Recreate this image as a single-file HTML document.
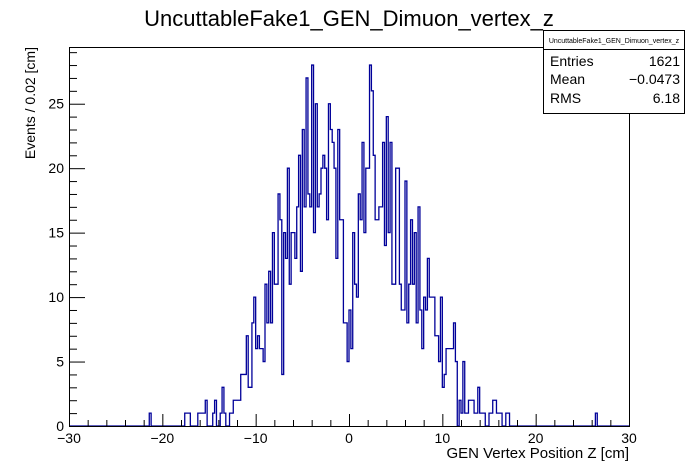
<!DOCTYPE html>
<html><head><meta charset="utf-8"><style>
body{margin:0;background:#fff;}
svg{display:block;font-family:"Liberation Sans",sans-serif;}
</style></head><body>
<svg id="chart" width="698" height="474" viewBox="0 0 698 474" xmlns="http://www.w3.org/2000/svg">
<rect x="0" y="0" width="698" height="474" fill="#fff"/>
<text x="349" y="26" font-size="22" text-anchor="middle">UncuttableFake1_GEN_Dimuon_vertex_z</text>
<g id="plot"></g>
<text x="629" y="458" font-size="15" text-anchor="end">GEN Vertex Position Z [cm]</text>
<text transform="translate(35,47) rotate(-90)" font-size="14" text-anchor="end">Events / 0.02 [cm]</text>
<g>
<rect x="543.5" y="30.5" width="141" height="83" fill="#fff" stroke="#000"/>
<text x="614" y="43" font-size="7" text-anchor="middle">UncuttableFake1_GEN_Dimuon_vertex_z</text>
<line x1="543.5" y1="49.5" x2="684.5" y2="49.5" stroke="#000"/>
<text x="550" y="66" font-size="14">Entries</text><text x="680" y="66" font-size="14" text-anchor="end">1621</text>
<text x="550" y="84" font-size="14">Mean</text><text x="680" y="84" font-size="14" text-anchor="end">−0.0473</text>
<text x="550" y="103" font-size="14">RMS</text><text x="680" y="103" font-size="14" text-anchor="end">6.18</text>
</g>
</svg>
<script>
const xMin = -30, xMax = 30, binWidth = 0.2;
const yMin = 0, yMax = 29.4;
const xTicks = [-30, -20, -10, 0, 10, 20, 30];
const xTickLabels = ["\u221230", "\u221220", "\u221210", "0", "10", "20", "30"];
const yTicks = [0, 5, 10, 15, 20, 25];
const yTickLabels = ["0", "5", "10", "15", "20", "25"];
const coreStart = -18;
const coreCounts = [0,0,1,1,1,0,0,0,0,1,1,1,1,2,0,0,0,1,2,0,0,1,3,1,0,0,1,1,2,2,2,2,4,4,4,7,3,3,8,10,6,7,6,6,5,11,8,12,8,15,11,11,18,16,4,15,13,20,11,15,15,13,17,21,12,23,17,27,18,17,28,15,25,17,18,20,21,20,16,25,23,22,20,13,23,16,16,8,8,5,9,6,15,11,10,18,16,22,15,20,20,28,26,21,16,16,17,17,22,14,24,15,22,11,11,20,20,11,9,9,19,8,11,16,11,15,8,17,9,6,10,9,13,10,10,10,7,7,5,10,3,4,6,6,6,6,8,5,0,2,1,5,1,1,2,2,2,1,1,3,1,1,1,0,0,1,1,2,2,1,1,1,0,0,1,1,0];
const outlierPositions = [-21.4, 26.4];
const outlierCounts = [1, 1];

const L = 69, R = 629, T = 47, B = 426;
const xs = v => L + (v - xMin) / (xMax - xMin) * (R - L);
const ys = v => B - (v - yMin) / (yMax - yMin) * (B - T);
const NS = "http://www.w3.org/2000/svg";
const plot = document.getElementById('plot');

const nb = Math.round((xMax - xMin) / binWidth);
const counts = new Array(nb).fill(0);
coreCounts.forEach((c, i) => { counts[Math.round((coreStart - xMin) / binWidth) + i] = c; });
outlierPositions.forEach((p, i) => { counts[Math.floor((p - xMin) / binWidth)] = outlierCounts[i]; });

let d = "M" + xs(xMin) + "," + ys(0);
for (let i = 0; i < nb; i++) {
  const x0 = xs(xMin + i * binWidth), x1 = xs(xMin + (i + 1) * binWidth), y = ys(counts[i]);
  d += " L" + x0.toFixed(2) + "," + y.toFixed(2) + " L" + x1.toFixed(2) + "," + y.toFixed(2);
}
d += " L" + xs(xMax) + "," + ys(0);
const path = document.createElementNS(NS, 'path');
path.setAttribute('d', d);
path.setAttribute('fill', 'none');
path.setAttribute('stroke', '#000099');
path.setAttribute('stroke-width', '1.3');


plot.appendChild(path);

const frame = document.createElementNS(NS, 'rect');
frame.setAttribute('x', L + 0.5); frame.setAttribute('y', T + 0.5);
frame.setAttribute('width', R - L); frame.setAttribute('height', B - T);
frame.setAttribute('fill', 'none'); frame.setAttribute('stroke', '#000');


plot.appendChild(frame);

function line(x1, y1, x2, y2, name) {
  const l = document.createElementNS(NS, 'line');
  l.setAttribute('x1', x1); l.setAttribute('y1', y1); l.setAttribute('x2', x2); l.setAttribute('y2', y2);
  l.setAttribute('stroke', '#000');
  
  
  plot.appendChild(l);
}
function text(x, y, s, anchor, name) {
  const t = document.createElementNS(NS, 'text');
  t.setAttribute('x', x); t.setAttribute('y', y); t.setAttribute('font-size', '14');
  t.setAttribute('text-anchor', anchor); t.textContent = s;
  
  
  plot.appendChild(t);
}
for (let v = xMin; v <= xMax; v += 2) {
  const major = v % 10 === 0;
  line(xs(v) + 0.5, B, xs(v) + 0.5, B - (major ? 12 : 6), 'x-tick');
}
xTicks.forEach((v, i) => text(xs(v), B + 17, xTickLabels[i], 'middle', 'x-tick-label'));
for (let v = 0; v <= 29; v += 1) {
  const major = v % 5 === 0;
  line(L, ys(v) + 0.5, L + (major ? 16 : 8), ys(v) + 0.5, 'y-tick');
}
yTicks.forEach((v, i) => text(L - 5, ys(v) + 5, yTickLabels[i], 'end', 'y-tick-label'));
</script>
</body></html>
